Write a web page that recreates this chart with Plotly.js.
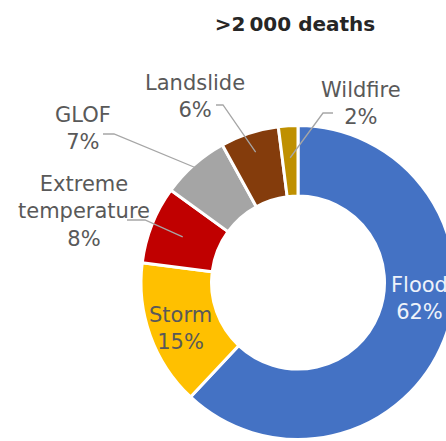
<!DOCTYPE html>
<html>
<head>
<meta charset="utf-8">
<script src="https://cdn.plot.ly/plotly-3.0.1.min.js"></script>
<style>
html,body{margin:0;padding:0;overflow:hidden;background:#fff;}
#chart{width:460px;height:450px;}
</style>
</head>
<body>
<div id="chart"></div>
<script>
// ---- data ----
const categories = ["Flood", "Storm", "Extreme temperature", "GLOF", "Landslide", "Wildfire"];
const labelText = ["Flood", "Storm", "Extreme<br>temperature", "GLOF", "Landslide", "Wildfire"];
const shares = [62, 15, 8, 7, 6, 2];
const colors = ["#4472C4", "#FFC000", "#C00000", "#A5A5A5", "#843C0C", "#BF9000"];
const titleText = ">2\u2009000 deaths";

// ---- layout constants (pixels) ----
const W = 460, H = 450;
const CX = 298, CY = 282.5, R = 157, LW = 3, HOLE = 0.551;
const px = x => x / W;
const py = y => 1 - y / H;

// label block centres and text colours
const labelPos = [
  {x: 419, y: 298, color: "#eef2fa", leader: null},
  {x: 180, y: 328, color: "#595959", leader: null},
  {x: 84,  y: 211, color: "#595959", leader: {sx: 127, sy: 220, ex: 145, r: 124}},
  {x: 83,  y: 129, color: "#595959", leader: {sx: 103, sy: 134, ex: 114, r: 152}},
  {x: 195, y: 96,  color: "#595959", leader: {sx: 216, sy: 105, ex: 223, r: 137}},
  {x: 361, y: 103, color: "#595959", leader: {sx: 333, sy: 113, ex: 323, r: 125}}
];

const total = shares.reduce((a, b) => a + b, 0);
let cum = 0;
const annotations = [];
const shapes = [];
shares.forEach((v, i) => {
  const mid = (cum + v / 2) / total * 2 * Math.PI; // clockwise from 12 o'clock
  cum += v;
  const p = labelPos[i];
  annotations.push({
    xref: "paper", yref: "paper", x: px(p.x), y: py(p.y),
    xanchor: "center", yanchor: "middle", showarrow: false,
    text: labelText[i] + "<br>" + v + "%",
    font: {family: "DejaVu Sans", size: 21, color: p.color}
  });
  if (p.leader) {
    const L = p.leader;
    const tx = CX + L.r * Math.sin(mid);
    const ty = CY - L.r * Math.cos(mid);
    shapes.push({
      type: "path", xref: "paper", yref: "paper",
      path: `M ${px(L.sx)} ${py(L.sy)} L ${px(L.ex)} ${py(L.sy)} L ${px(tx)} ${py(ty)}`,
      line: {color: "#a6a6a6", width: 1.3}
    });
  }
});

const trace = {
  type: "pie",
  values: shares,
  labels: categories,
  sort: false,
  direction: "clockwise",
  rotation: 0,
  hole: HOLE,
  textinfo: "none",
  hoverinfo: "label+percent",
  showlegend: false,
  marker: {colors: colors, line: {color: "#ffffff", width: LW}},
  domain: {x: [px(CX - R), px(CX + R)], y: [py(CY + R), py(CY - R)]}
};

const layout = {
  width: W, height: H,
  margin: {l: 0, r: 0, t: 0, b: 0},
  paper_bgcolor: "#ffffff",
  font: {family: "DejaVu Sans", color: "#595959"},
  title: {
    text: "<b>" + titleText + "</b>",
    x: px(295), xref: "paper", xanchor: "center",
    y: py(23.5), yref: "container", yanchor: "middle",
    font: {family: "DejaVu Sans", size: 20, color: "#262626"}
  },
  annotations: annotations,
  shapes: shapes
};

Plotly.newPlot("chart", [trace], layout, {displayModeBar: false, staticPlot: true});
</script>
</body>
</html>
